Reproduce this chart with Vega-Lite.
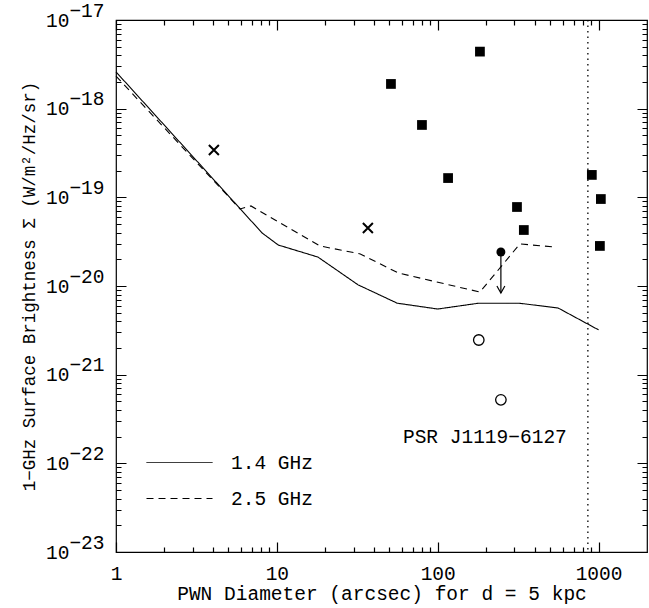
{
  "$schema": "https://vega.github.io/schema/vega-lite/v6.json",
  "width": 531,
  "height": 532,
  "autosize": {"type": "none"},
  "padding": {"left": 116, "top": 20, "right": 2, "bottom": 56},
  "background": "white",
  "config": {
    "font": "Liberation Mono",
    "view": {"stroke": "black", "strokeWidth": 1.2},
    "axis": {
      "labelColor": "black",
      "titleColor": "black",
      "gridColor": "black",
      "gridWidth": 1.2,
      "gridOpacity": 1,
      "labelFont": "Liberation Mono",
      "titleFont": "Liberation Mono",
      "labelFontSize": 19.5,
      "titleFontSize": 19.5,
      "titleFontWeight": "normal",
      "labelOverlap": false,
      "labelFlush": false
    }
  },
  "datasets": {
    "lines": [
      {"band": "1.4 GHz", "d": 1, "s": 2.6e-18},
      {"band": "1.4 GHz", "d": 8.1, "s": 3.96e-20},
      {"band": "1.4 GHz", "d": 10.2, "s": 2.9e-20},
      {"band": "1.4 GHz", "d": 18, "s": 2.12e-20},
      {"band": "1.4 GHz", "d": 32, "s": 1.03e-20},
      {"band": "1.4 GHz", "d": 56, "s": 6.4e-21},
      {"band": "1.4 GHz", "d": 100, "s": 5.5e-21},
      {"band": "1.4 GHz", "d": 180, "s": 6.4e-21},
      {"band": "1.4 GHz", "d": 320, "s": 6.4e-21},
      {"band": "1.4 GHz", "d": 560, "s": 5.65e-21},
      {"band": "1.4 GHz", "d": 1000, "s": 3.2e-21},
      {"band": "2.5 GHz", "d": 1, "s": 2.33e-18},
      {"band": "2.5 GHz", "d": 5.9, "s": 7.4e-20},
      {"band": "2.5 GHz", "d": 6.9, "s": 8.0e-20},
      {"band": "2.5 GHz", "d": 18.5, "s": 2.83e-20},
      {"band": "2.5 GHz", "d": 33, "s": 2.3e-20},
      {"band": "2.5 GHz", "d": 57, "s": 1.4e-20},
      {"band": "2.5 GHz", "d": 183, "s": 8.55e-21},
      {"band": "2.5 GHz", "d": 324, "s": 2.98e-20},
      {"band": "2.5 GHz", "d": 540, "s": 2.75e-20}
    ],
    "points": [
      {"kind": "square", "d": 51.2, "s": 1.9e-18},
      {"kind": "square", "d": 79.8, "s": 6.55e-19},
      {"kind": "square", "d": 116, "s": 1.65e-19},
      {"kind": "square", "d": 183, "s": 4.4e-18},
      {"kind": "square", "d": 311, "s": 7.78e-20},
      {"kind": "square", "d": 343, "s": 4.28e-20},
      {"kind": "square", "d": 908, "s": 1.79e-19},
      {"kind": "square", "d": 1033, "s": 9.57e-20},
      {"kind": "square", "d": 1019, "s": 2.83e-20},
      {"kind": "cross", "d": 4.06, "s": 3.42e-19},
      {"kind": "cross", "d": 36.8, "s": 4.51e-20},
      {"kind": "filled", "d": 247, "s": 2.42e-20, "s2": 8.34e-21},
      {"kind": "open", "d": 180, "s": 2.46e-21},
      {"kind": "open", "d": 247, "s": 5.2e-22}
    ],
    "annot": [
      {"d": 60.8, "s": 1.98e-22, "label": "PSR J1119−6127"}
    ],
    "vline": [
      {"d": 858}
    ]
  },
  "resolve": {"axis": {"x": "independent", "y": "independent"}},
  "layer": [
    {
      "data": {"name": "lines"},
      "mark": {"type": "line", "color": "black", "strokeWidth": 1.1},
      "encoding": {
        "x": {"field": "d", "type": "quantitative",
              "scale": {"type": "log", "domain": [1, 2000], "nice": false},
              "axis": {"orient": "bottom", "values": [1, 10, 100, 1000], "format": "d", "ticks": false, "domain": false,
                       "grid": true, "gridDash": [10, 512, 10, 600],
                       "labelPadding": 12, "title": "PWN Diameter (arcsec) for d = 5 kpc", "titlePadding": 2}},
        "y": {"field": "s", "type": "quantitative",
              "scale": {"type": "log", "domain": [1e-23, 1e-17], "nice": false},
              "axis": {"orient": "left", "values": [1e-23, 1e-22, 1e-21, 1e-20, 1e-19, 1e-18, 1e-17], "labelExpr": "'10'",
                       "ticks": false, "domain": false, "labelPadding": 47,
                       "grid": true, "gridDash": [10, 511, 10, 600],
                       "title": "1−GHz Surface Brightness Σ (W/m²/Hz/sr)", "titleFontSize": 17.5, "titlePadding": 7}},
        "strokeDash": {"field": "band", "type": "nominal",
                       "scale": {"domain": ["1.4 GHz", "2.5 GHz"], "range": [[1, 0], [7, 5]]},
                       "legend": {"orient": "none", "legendX": 52, "legendY": 431, "title": null, "padding": 0,
                                  "symbolType": "M-3,0L3,0", "symbolSize": 484, "symbolStrokeWidth": 1,
                                  "symbolStrokeColor": "black", "labelFontSize": 19.5, "labelFont": "Liberation Mono",
                                  "labelColor": "black", "labelOffset": 40, "rowPadding": 15}}
      }
    },
    {
      "data": {"name": "points"},
      "transform": [{"filter": "datum.kind === 'square'"}],
      "mark": {"type": "square", "color": "black", "opacity": 1, "size": 95},
      "encoding": {
        "x": {"field": "d", "type": "quantitative",
              "scale": {"type": "log", "domain": [1, 2000], "nice": false},
              "axis": {"orient": "bottom", "values": [2, 3, 4, 5, 6, 7, 8, 9, 20, 30, 40, 50, 60, 70, 80, 90, 200, 300, 400, 500, 600, 700, 800, 900],
                       "labels": false, "ticks": false, "domain": false, "grid": true, "gridDash": [5, 522, 5, 600], "title": null}},
        "y": {"field": "s", "type": "quantitative",
              "scale": {"type": "log", "domain": [1e-23, 1e-17], "nice": false},
              "axis": {"orient": "left", "values": [2e-23, 3e-23, 4e-23, 5e-23, 6e-23, 7e-23, 8e-23, 9e-23, 2e-22, 3e-22, 4e-22, 5e-22, 6e-22, 7e-22, 8e-22, 9e-22, 2e-21, 3e-21, 4e-21, 5e-21, 6e-21, 7e-21, 8e-21, 9e-21, 2e-20, 3e-20, 4e-20, 5e-20, 6e-20, 7e-20, 8e-20, 9e-20, 2e-19, 3e-19, 4e-19, 5e-19, 6e-19, 7e-19, 8e-19, 9e-19, 2e-18, 3e-18, 4e-18, 5e-18, 6e-18, 7e-18, 8e-18, 9e-18],
                       "labels": false, "ticks": false, "domain": false, "grid": true, "gridDash": [5, 521, 5, 600], "title": null}}
      }
    },
    {
      "data": {"name": "points"},
      "transform": [{"filter": "datum.kind === 'cross'"}],
      "mark": {"type": "point", "shape": "M-1,-1L1,1M-1,1L1,-1", "filled": false, "color": "black", "strokeWidth": 2, "size": 100, "opacity": 1},
      "encoding": {
        "x": {"field": "d", "type": "quantitative",
              "scale": {"type": "log", "domain": [1, 2000], "nice": false}, "axis": null},
        "y": {"field": "s", "type": "quantitative",
              "scale": {"type": "log", "domain": [1e-23, 1e-17], "nice": false}, "axis": null}
      }
    },
    {
      "data": {"name": "points"},
      "transform": [{"filter": "datum.kind === 'filled'"}],
      "mark": {"type": "circle", "color": "black", "opacity": 1, "size": 80},
      "encoding": {
        "x": {"field": "d", "type": "quantitative",
              "scale": {"type": "log", "domain": [1, 2000], "nice": false}, "axis": null},
        "y": {"field": "s", "type": "quantitative",
              "scale": {"type": "log", "domain": [1e-23, 1e-17], "nice": false}, "axis": null}
      }
    },
    {
      "data": {"name": "points"},
      "transform": [{"filter": "datum.kind === 'open'"}],
      "mark": {"type": "point", "shape": "circle", "filled": false, "color": "black", "strokeWidth": 1.3, "size": 110, "opacity": 1},
      "encoding": {
        "x": {"field": "d", "type": "quantitative",
              "scale": {"type": "log", "domain": [1, 2000], "nice": false}, "axis": null},
        "y": {"field": "s", "type": "quantitative",
              "scale": {"type": "log", "domain": [1e-23, 1e-17], "nice": false}, "axis": null}
      }
    },
    {
      "data": {"name": "points"},
      "transform": [{"filter": "datum.kind === 'filled'"}],
      "mark": {"type": "rule", "color": "black", "strokeWidth": 1.2},
      "encoding": {
        "x": {"field": "d", "type": "quantitative",
              "scale": {"type": "log", "domain": [1, 2000], "nice": false}, "axis": null},
        "y": {"field": "s", "type": "quantitative",
              "scale": {"type": "log", "domain": [1e-23, 1e-17], "nice": false},
              "axis": {"orient": "left", "values": [1e-23, 1e-22, 1e-21, 1e-20, 1e-19, 1e-18, 1e-17],
                       "labelExpr": "'−' + (-round(log(datum.value) / LN10))",
                       "ticks": false, "domain": false, "grid": false, "labelPadding": 12, "labelOffset": -10, "title": null}},
        "y2": {"field": "s2"}
      }
    },
    {
      "data": {"name": "points"},
      "transform": [{"filter": "datum.kind === 'filled'"}],
      "mark": {"type": "point", "shape": "M-0.66,-1.16L0,0L0.66,-1.16", "filled": false, "color": "black", "strokeWidth": 1.2, "size": 144, "opacity": 1},
      "encoding": {
        "x": {"field": "d", "type": "quantitative",
              "scale": {"type": "log", "domain": [1, 2000], "nice": false}, "axis": null},
        "y": {"field": "s2", "type": "quantitative",
              "scale": {"type": "log", "domain": [1e-23, 1e-17], "nice": false}, "axis": null}
      }
    },
    {
      "data": {"name": "vline"},
      "mark": {"type": "rule", "color": "black", "strokeWidth": 1.3, "strokeDash": [1.5, 4]},
      "encoding": {
        "x": {"field": "d", "type": "quantitative",
              "scale": {"type": "log", "domain": [1, 2000], "nice": false}, "axis": null}
      }
    },
    {
      "data": {"name": "annot"},
      "mark": {"type": "text", "align": "left", "baseline": "middle", "fontSize": 19.5, "font": "Liberation Mono", "color": "black"},
      "encoding": {
        "x": {"field": "d", "type": "quantitative",
              "scale": {"type": "log", "domain": [1, 2000], "nice": false}, "axis": null},
        "y": {"field": "s", "type": "quantitative",
              "scale": {"type": "log", "domain": [1e-23, 1e-17], "nice": false}, "axis": null},
        "text": {"field": "label"}
      }
    }
  ]
}
